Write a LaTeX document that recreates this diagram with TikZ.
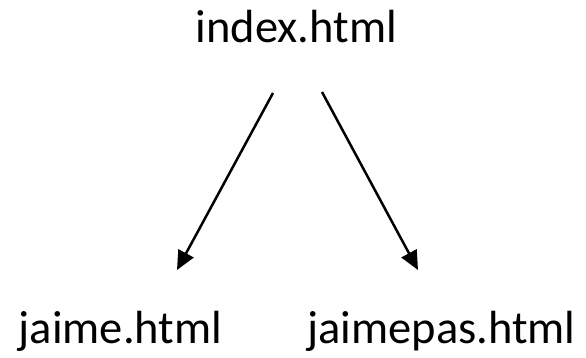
\documentclass[tikz,border=0pt]{standalone}
\usepackage{fontspec}
\setmainfont{Carlito}
\usetikzlibrary{arrows.meta}
\begin{document}
\begin{tikzpicture}[x=1pt,y=1pt, every node/.style={font=\fontsize{46.5}{56}\selectfont,inner sep=0pt}]
\useasboundingbox (0,0) rectangle (586,357);
\coordinate (t1) at (296.5,314);
\coordinate (b1) at (120.5,14);
\coordinate (b2) at (441.5,14);
\coordinate (s1) at (273,264);
\coordinate (e1) at (177,87);
\coordinate (s2) at (322,265);
\coordinate (e2) at (418,87);

  \node (index) at (t1) [anchor=base] {index.html};
  \node (jaime) at (b1) [anchor=base] {jaime.html};
  \node (jaimepas) at (b2) [anchor=base] {jaimepas.html};
  \draw[color=black,line width=2.5pt,-{Triangle[length=19pt,width=17pt]}] (s1) to[] (e1);
  \draw[color=black,line width=2.5pt,-{Triangle[length=19pt,width=17pt]}] (s2) to[] (e2);
\end{tikzpicture}
\end{document}
